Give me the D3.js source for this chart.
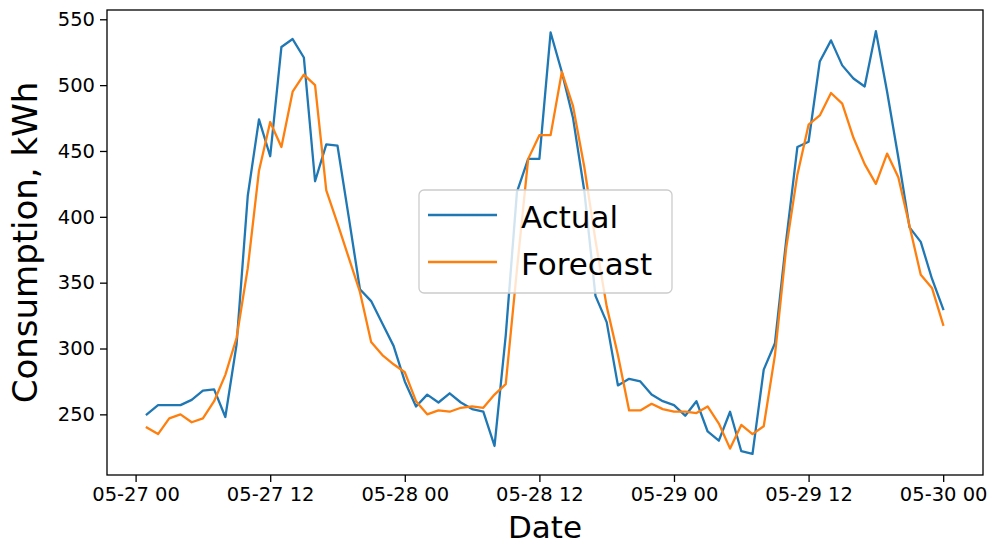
<!doctype html>
<html lang=en>
<head>
  <meta charset="utf-8">
  <title>Actual vs Forecast</title>
  <style>
body { margin: 0; background: #fff; }
svg text { font-family: "DejaVu Sans", sans-serif; fill: #000; }
.axis path.domain { display: none; }
.axis line { stroke: #000; stroke-width: 1.3; }
  </style>
</head>
<body>
<div id=content></div>

<script src="https://cdn.jsdelivr.net/npm/d3@7"></script>
<script>
  // hourly readings, first one at 05-27 01:00
  var startTime = Date.UTC(2021, 4, 27, 1)

  var actual = [250, 257, 257, 257, 261, 268, 269, 248, 303, 416,
                474, 446, 529, 535, 521, 427, 455, 454, 400, 345,
                336, 319, 302, 275, 256, 265, 259, 266, 259, 254,
                252, 226, 310, 419, 444, 444, 540, 510, 475, 420,
                340, 320, 272, 277, 275, 265, 260, 257, 249, 260,
                237, 230, 252, 222, 220, 284, 304, 382, 453, 457,
                518, 534, 515, 505, 499, 541, 495, 445, 392, 381,
                353, 330]

  var forecast = [240, 235, 247, 250, 244, 247, 260, 280, 308, 361,
                  435, 472, 453, 495, 508, 500, 420, 395, 369, 343,
                  305, 295, 288, 282, 260, 250, 253, 252, 255, 256,
                  255, 265, 273, 360, 444, 462, 462, 510, 484, 438,
                  382, 332, 295, 253, 253, 258, 254, 252, 252, 251,
                  256, 243, 224, 242, 235, 241, 295, 376, 432, 470,
                  477, 494, 486, 460, 440, 425, 448, 430, 393, 356,
                  346, 318]

  var seriesNames = ["Actual", "Forecast"]
  var yTicks = [250, 300, 350, 400, 450, 500, 550]
  var xTitle = "Date"
  var yTitle = "Consumption, kWh"

  var colors = ["#1f77b4", "#ff7f0e"]

  // margins  t, r, b, l
  var m = [10, 9, 69, 107],
    W = 992, H = 544,
    w = W - m[1] - m[3],
    h = H - m[0] - m[2];

  var svg = d3.select("#content").append("svg")
     .attr("width", W)
     .attr("height", H)

  var plt = svg.append("g")
     .attr("transform", "translate(" + m[3] + "," + m[0] + ")");

  var times = actual.map((d, i) => new Date(startTime + i * 3600e3))
  var series = [actual, forecast].map(vals => vals.map((v, i) => ({t: times[i], v: v})))

  // matplotlib style 5% margins
  function pad(ext){
    var p = (ext[1] - ext[0]) * 0.05
    return [+ext[0] - p, +ext[1] + p]
  }

  var x = d3.scaleUtc()
     .domain(pad(d3.extent(times)).map(d => new Date(d)))
     .range([0, w]);

  var y = d3.scaleLinear()
     .domain(pad(d3.extent(actual.concat(forecast))))
     .range([h, 0]);

  var xaxis = d3.axisBottom(x)
     .ticks(d3.utcHour.every(12))
     .tickFormat(d3.utcFormat("%m-%d %H"))
     .tickSizeOuter(0)
     .tickSize(7)
     .tickPadding(5);
  var gx = plt.append("g")
     .attr("class", "axis")
     .attr("transform", "translate(0," + h + ")")
     .call(xaxis);
  gx.selectAll("text").attr("font-size", 19.5).attr("fill", "#000")

  var yaxis = d3.axisLeft(y)
     .tickValues(yTicks)
     .tickSizeOuter(0)
     .tickSize(7)
     .tickPadding(5);
  var gy = plt.append("g")
     .attr("class", "axis")
     .call(yaxis);
  gy.selectAll("text").attr("font-size", 19.5).attr("fill", "#000")

  // lines
  var line = d3.line()
     .x(d => x(d.t))
     .y(d => y(d.v))

  plt.append("g").selectAll("path")
     .data(series)
     .join("path")
     .attr("d", line)
     .attr("fill", "none")
     .attr("stroke", (d, i) => colors[i])
     .attr("stroke-width", 2.3)
     .attr("stroke-linejoin", "round")
     .attr("stroke-linecap", "square");

  // frame
  plt.append("rect")
     .attr("width", w)
     .attr("height", h)
     .attr("fill", "none")
     .attr("stroke", "#000")
     .attr("stroke-width", 1.3);

  // axis titles
  svg.append("text")
     .attr("x", m[3] + w / 2)
     .attr("y", 538)
     .attr("text-anchor", "middle")
     .attr("font-size", 31)
     .text(xTitle);

  svg.append("text")
     .attr("transform", "translate(37," + (m[0] + h / 2) + ") rotate(-90)")
     .attr("text-anchor", "middle")
     .attr("font-size", 34)
     .text(yTitle);

  // legend
  var lg = svg.append("g").attr("transform", "translate(419,190)")
  lg.append("rect")
     .attr("width", 253)
     .attr("height", 103)
     .attr("rx", 5)
     .attr("fill", "#fff")
     .attr("fill-opacity", 0.8)
     .attr("stroke", "#ccc")
     .attr("stroke-width", 1.3);

  var items = lg.selectAll("g.item")
     .data(seriesNames)
     .join("g")
     .attr("class", "item")
     .attr("transform", (d, i) => "translate(0," + (25 + i * 47) + ")");
  items.append("line")
     .attr("x1", 9).attr("x2", 78)
     .attr("stroke", (d, i) => colors[i])
     .attr("stroke-width", 2.3);
  items.append("text")
     .attr("x", 102)
     .attr("y", 13)
     .attr("font-size", 31)
     .text(d => d);
</script>

</body>
</html>
